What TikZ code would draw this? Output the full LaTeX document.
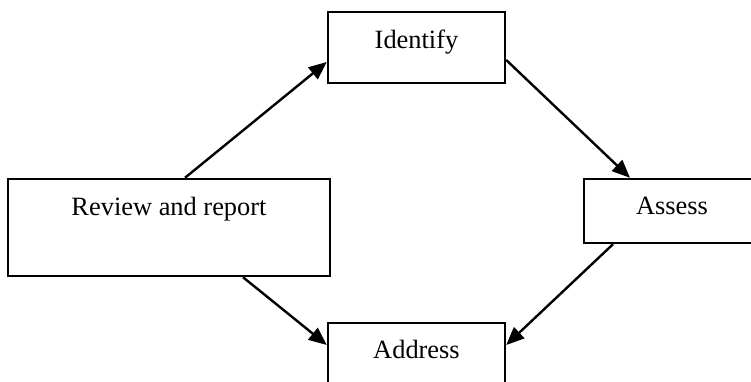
\documentclass[tikz,border=0pt]{standalone}
\usepackage{fontspec}
\setmainfont{Liberation Serif}
\usetikzlibrary{arrows.meta}
\begin{document}
\begin{tikzpicture}[x=1bp,y=-1bp,
  box/.style={draw,line width=2.4bp,inner sep=0pt,rectangle},
  lbl/.style={font=\fontsize{26.5}{30}\selectfont,anchor=base,inner sep=0pt},
  arr/.style={line width=2.4bp,-{Triangle[length=18bp,width=15bp]}}]
\useasboundingbox (0,0) rectangle (751,381);
\clip (0,0) rectangle (751,381);
\node[box,minimum width=177bp,minimum height=71bp] (id) at (416.5,47.5) {};
\node[box,minimum width=322bp,minimum height=97bp] (rev) at (169,227.5) {};
\node[box,minimum width=176bp,minimum height=64bp] (as) at (672,211) {};
\node[box,minimum width=177bp,minimum height=77bp] (ad) at (416.5,361.5) {};
\node[lbl] (idt) at (416.5,48) {Identify};
\node[lbl] (revt) at (169,215) {Review and report};
\node[lbl] (ast) at (672,214) {Assess};
\node[lbl] (adt) at (416.5,358) {Address};
\draw[arr] ([xshift=16bp]rev.north) -- ([yshift=-14.5bp]id.west);
\draw[arr] ([yshift=-12.5bp]id.east) -- ([xshift=-42bp]as.north);
\draw[arr] ([xshift=-59bp]as.south) -- ([yshift=16.5bp]ad.east);
\draw[arr] ([xshift=74bp]rev.south) -- ([yshift=16.5bp]ad.west);
\end{tikzpicture}
\end{document}
